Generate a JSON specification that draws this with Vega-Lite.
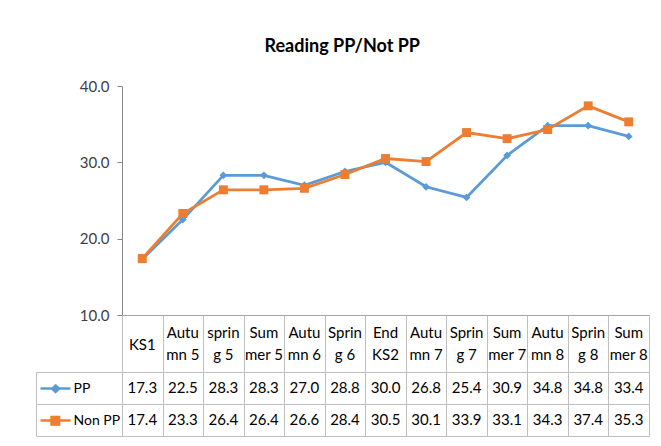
{
  "$schema": "https://vega.github.io/schema/vega-lite/v6.json",
  "padding": {"left": 35, "top": 38, "right": 5, "bottom": 5},
  "background": "white",
  "title": {"text": "Reading PP/Not PP", "font": "Lato", "fontSize": 18, "fontWeight": "bold", "color": "#000000", "anchor": "middle", "offset": 23},
  "config": {"font": "Lato", "view": {"stroke": null}},
  "spacing": 0,
  "bounds": "flush",
  "datasets": {
    "terms": [
      {"term": "KS1", "label": "KS1"},
      {"term": "Autumn 5", "label": "Autu\nmn 5"},
      {"term": "spring 5", "label": "sprin\ng 5"},
      {"term": "Summer 5", "label": "Sum\nmer 5"},
      {"term": "Autumn 6", "label": "Autu\nmn 6"},
      {"term": "Spring 6", "label": "Sprin\ng 6"},
      {"term": "End KS2", "label": "End\nKS2"},
      {"term": "Autumn 7", "label": "Autu\nmn 7"},
      {"term": "Spring 7", "label": "Sprin\ng 7"},
      {"term": "Summer 7", "label": "Sum\nmer 7"},
      {"term": "Autumn 8", "label": "Autu\nmn 8"},
      {"term": "Spring 8", "label": "Sprin\ng 8"},
      {"term": "Summer 8", "label": "Sum\nmer 8"}
    ],
    "scores": [
      {"series": "PP", "term": "KS1", "score": 17.3},
      {"series": "PP", "term": "Autumn 5", "score": 22.5},
      {"series": "PP", "term": "spring 5", "score": 28.3},
      {"series": "PP", "term": "Summer 5", "score": 28.3},
      {"series": "PP", "term": "Autumn 6", "score": 27.0},
      {"series": "PP", "term": "Spring 6", "score": 28.8},
      {"series": "PP", "term": "End KS2", "score": 30.0},
      {"series": "PP", "term": "Autumn 7", "score": 26.8},
      {"series": "PP", "term": "Spring 7", "score": 25.4},
      {"series": "PP", "term": "Summer 7", "score": 30.9},
      {"series": "PP", "term": "Autumn 8", "score": 34.8},
      {"series": "PP", "term": "Spring 8", "score": 34.8},
      {"series": "PP", "term": "Summer 8", "score": 33.4},
      {"series": "Non PP", "term": "KS1", "score": 17.4},
      {"series": "Non PP", "term": "Autumn 5", "score": 23.3},
      {"series": "Non PP", "term": "spring 5", "score": 26.4},
      {"series": "Non PP", "term": "Summer 5", "score": 26.4},
      {"series": "Non PP", "term": "Autumn 6", "score": 26.6},
      {"series": "Non PP", "term": "Spring 6", "score": 28.4},
      {"series": "Non PP", "term": "End KS2", "score": 30.5},
      {"series": "Non PP", "term": "Autumn 7", "score": 30.1},
      {"series": "Non PP", "term": "Spring 7", "score": 33.9},
      {"series": "Non PP", "term": "Summer 7", "score": 33.1},
      {"series": "Non PP", "term": "Autumn 8", "score": 34.3},
      {"series": "Non PP", "term": "Spring 8", "score": 37.4},
      {"series": "Non PP", "term": "Summer 8", "score": 35.3}
    ]
  },
  "vconcat": [
    {
      "width": 527,
      "height": 229,
      "data": {"name": "scores"},
      "encoding": {
        "x": {
          "field": "term", "type": "nominal", "sort": null,
          "scale": {"paddingInner": 0, "paddingOuter": 0},
          "axis": {"title": null, "labels": false, "ticks": false, "domain": true, "domainColor": "#A6A6A6"}
        },
        "y": {
          "field": "score", "type": "quantitative",
          "scale": {"domain": [10, 40], "nice": false, "zero": false},
          "axis": {"title": null, "values": [10, 20, 30, 40], "format": ".1f", "grid": false,
            "domainColor": "#868686", "tickColor": "#868686", "tickSize": 5, "labelPadding": 8,
            "labelFontSize": 15, "labelColor": "#404040"}
        },
        "color": {"field": "series", "type": "nominal", "scale": {"domain": ["PP", "Non PP"], "range": ["#5B9BD5", "#ED7D31"]}, "legend": null}
      },
      "layer": [
        {"mark": {"type": "line", "strokeWidth": 2.75}},
        {
          "mark": {"type": "point", "filled": true, "opacity": 1},
          "encoding": {
            "shape": {"field": "series", "type": "nominal", "scale": {"domain": ["PP", "Non PP"], "range": ["diamond", "square"]}, "legend": null},
            "size": {"field": "series", "type": "nominal", "scale": {"domain": ["PP", "Non PP"], "range": [60, 80]}, "legend": null}
          }
        }
      ]
    },
    {
      "width": 527,
      "height": 57,
      "data": {"name": "terms"},
      "encoding": {
        "x": {
          "field": "term", "type": "nominal", "sort": null,
          "scale": {"domain": ["KS1", "Autumn 5", "spring 5", "Summer 5", "Autumn 6", "Spring 6", "End KS2", "Autumn 7", "Spring 7", "Summer 7", "Autumn 8", "Spring 8", "Summer 8"], "paddingInner": 0, "paddingOuter": 0},
          "axis": {"title": null, "labels": false, "ticks": false, "domain": false, "grid": true, "tickBand": "extent", "gridColor": "#BFBFBF", "gridWidth": 1}
        },
        "text": {"field": "label", "type": "nominal"}
      },
      "layer": [
        {
          "transform": [{"filter": {"field": "term", "equal": "KS1"}}],
          "mark": {"type": "text", "lineBreak": "\n", "fontSize": 15, "lineHeight": 22, "baseline": "middle", "color": "#000000", "dy": 1}
        },
        {
          "transform": [{"filter": {"not": {"field": "term", "equal": "KS1"}}}],
          "mark": {"type": "text", "lineBreak": "\n", "fontSize": 15, "lineHeight": 22, "baseline": "middle", "color": "#000000", "dy": -11}
        }
      ]
    },
    {
      "width": 527,
      "height": 64,
      "data": {"name": "scores"},
      "encoding": {
        "x": {
          "field": "term", "type": "nominal", "sort": null,
          "scale": {"paddingInner": 0, "paddingOuter": 0},
          "axis": {"title": null, "labels": false, "ticks": false, "domain": false, "grid": true, "tickBand": "extent", "gridColor": "#BFBFBF", "gridWidth": 1}
        }
      },
      "layer": [
        {
          "mark": {"type": "text", "fontSize": 15, "color": "#000000"},
          "encoding": {
            "y": {
              "field": "series", "type": "nominal",
              "scale": {"domain": ["PP", "Non PP"], "paddingInner": 0, "paddingOuter": 0},
              "axis": {"title": null, "orient": "left", "offset": 86, "domain": true, "domainColor": "#BFBFBF",
                "grid": true, "gridColor": "#BFBFBF", "tickBand": "extent", "ticks": true, "tickSize": -86, "tickColor": "#BFBFBF",
                "labelAlign": "left", "labelBaseline": "middle", "labelPadding": 49, "labelFontSize": 14, "labelColor": "#000000"}
            },
            "text": {"field": "score", "type": "quantitative", "format": ".1f"}
          }
        },
        {
          "mark": {"type": "text", "text": " "},
          "encoding": {
            "y": {
              "field": "series", "type": "nominal",
              "scale": {"domain": ["PP", "Non PP"], "paddingInner": 0, "paddingOuter": 0},
              "axis": {"title": null, "orient": "left", "offset": 82, "domain": false, "grid": false,
                "tickBand": "center", "ticks": true, "tickSize": -30, "tickWidth": 2.5,
                "tickColor": {"condition": {"test": "datum.value === 'PP'", "value": "#5B9BD5"}, "value": "#ED7D31"},
                "labelColor": {"condition": {"test": "datum.value === 'PP'", "value": "#5B9BD5"}, "value": "#ED7D31"},
                "labelExpr": "datum.value === 'PP' ? '◆' : '■'",
                "labelFont": "DejaVu Sans", "labelFontSize": 13,
                "labelAlign": "center", "labelBaseline": "middle", "labelPadding": 15}
            }
          }
        }
      ],
      "resolve": {"axis": {"y": "independent"}}
    }
  ]
}
